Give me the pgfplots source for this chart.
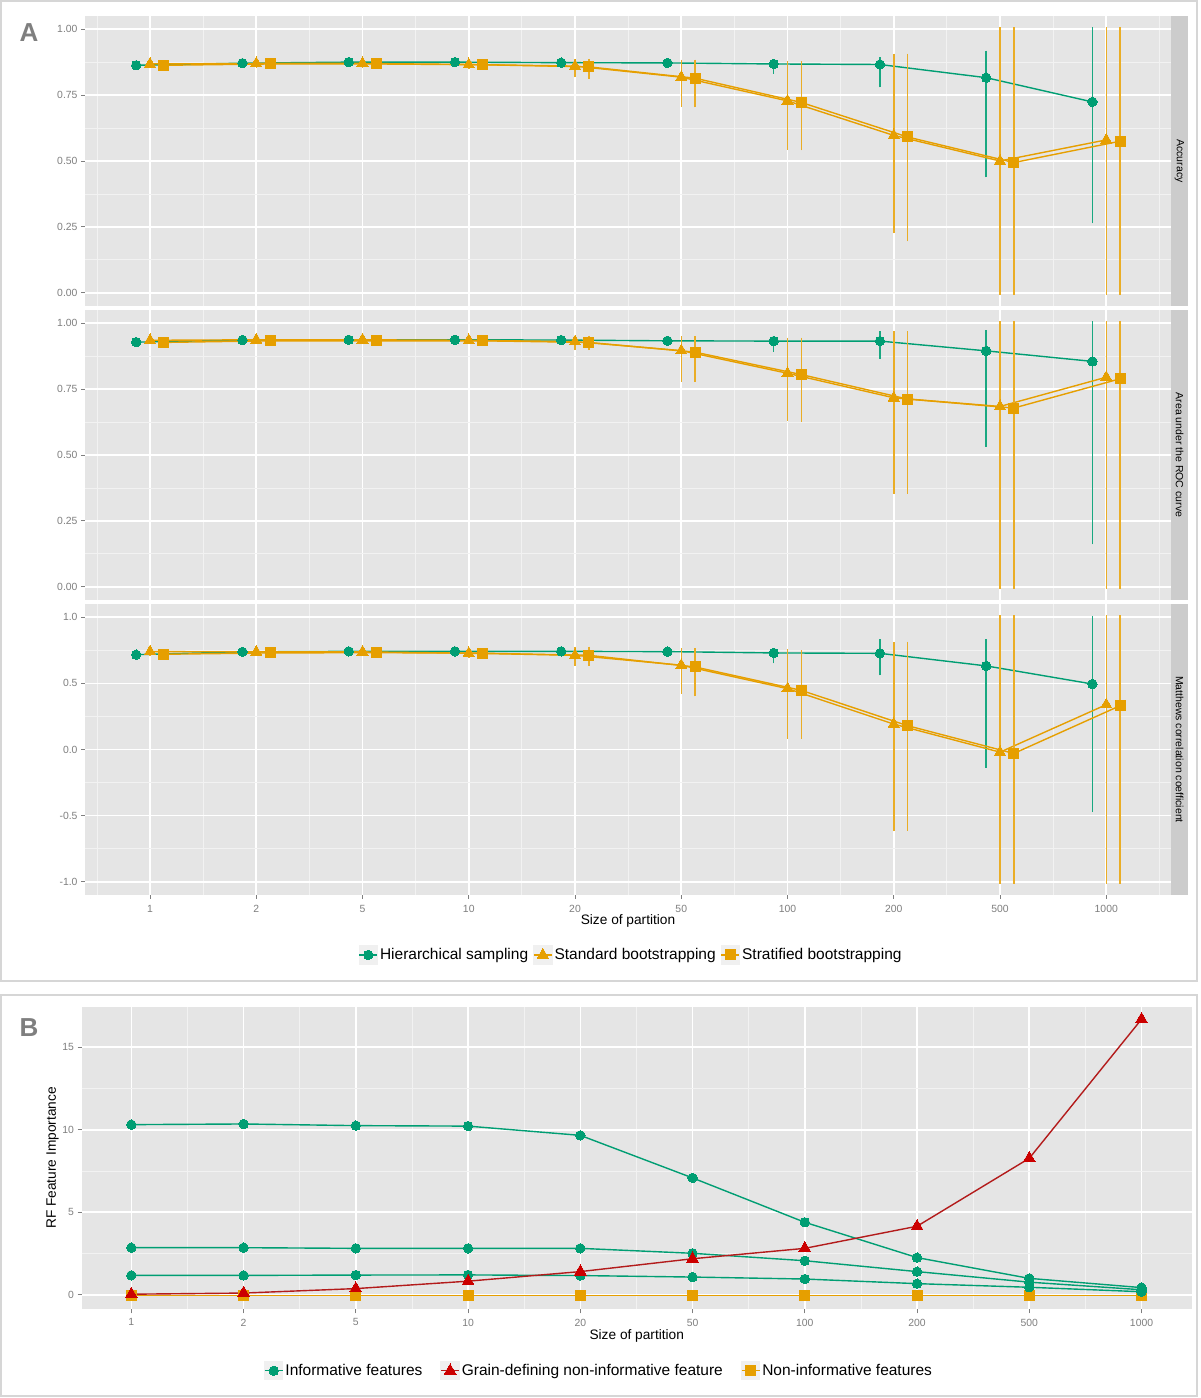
\documentclass[border=0pt]{standalone}
\usepackage{pgfplots}
\pgfplotsset{compat=1.18}
\usepackage{pgfplotstable}
\usepackage{fontspec}
\setmainfont{Liberation Sans}
\definecolor{ggbg}{HTML}{E5E5E5}
\definecolor{ggminor}{HTML}{F2F2F2}
\definecolor{gglab}{HTML}{7F7F7F}
\definecolor{ggstrip}{HTML}{CCCCCC}
\definecolor{keybg}{HTML}{F0F0F0}
\definecolor{boxc}{HTML}{D6D6D6}
\definecolor{cgreen}{HTML}{009E73}
\definecolor{corange}{HTML}{E69F00}
\definecolor{cred}{HTML}{CC0000}
\definecolor{credline}{HTML}{B31B1B}

% ---------- Panel A data: x y lo hi ----------
\pgfplotstableread{
x y lo hi
-0.13 0.863 0.858 0.868
0.87 0.871 0.866 0.876
1.87 0.875 0.870 0.880
2.87 0.875 0.870 0.880
3.87 0.873 0.866 0.880
4.87 0.872 0.862 0.880
5.87 0.868 0.838 0.873
6.87 0.866 0.787 0.886
7.87 0.816 0.445 0.911
8.87 0.724 0.271 1.000
}\accH
\pgfplotstableread{
x y lo hi
0 0.868 0.860 0.876
1 0.870 0.862 0.878
2 0.870 0.862 0.878
3 0.866 0.855 0.875
4 0.860 0.825 0.880
5 0.818 0.714 0.877
6 0.728 0.550 0.873
7 0.597 0.233 0.900
8 0.500 0.000 1.000
9 0.580 0.000 1.000
}\accS
\pgfplotstableread{
x y lo hi
0.13 0.863 0.855 0.870
1.13 0.868 0.860 0.876
2.13 0.868 0.860 0.876
3.13 0.865 0.855 0.875
4.13 0.857 0.820 0.880
5.13 0.814 0.711 0.877
6.13 0.722 0.548 0.870
7.13 0.591 0.203 0.900
8.13 0.494 0.000 1.000
9.13 0.575 0.000 1.000
}\accT
\pgfplotstableread{
x y lo hi
-0.13 0.928 0.924 0.932
0.87 0.936 0.932 0.940
1.87 0.937 0.933 0.941
2.87 0.937 0.933 0.941
3.87 0.936 0.930 0.942
4.87 0.933 0.925 0.940
5.87 0.932 0.900 0.943
6.87 0.932 0.873 0.962
7.87 0.895 0.539 0.966
8.87 0.855 0.169 1.000
}\aucH
\pgfplotstableread{
x y lo hi
0 0.935 0.930 0.940
1 0.937 0.932 0.942
2 0.937 0.932 0.942
3 0.935 0.930 0.940
4 0.930 0.905 0.945
5 0.896 0.785 0.942
6 0.810 0.637 0.938
7 0.717 0.361 0.962
8 0.684 0.000 1.000
9 0.795 0.000 1.000
}\aucS
\pgfplotstableread{
x y lo hi
0.13 0.927 0.922 0.932
1.13 0.933 0.928 0.938
2.13 0.933 0.928 0.938
3.13 0.933 0.928 0.938
4.13 0.927 0.905 0.945
5.13 0.890 0.785 0.942
6.13 0.805 0.634 0.938
7.13 0.712 0.361 0.962
8.13 0.678 0.000 1.000
9.13 0.789 0.000 1.000
}\aucT
\pgfplotstableread{
x y lo hi
-0.13 0.717 0.705 0.730
0.87 0.738 0.728 0.748
1.87 0.742 0.732 0.752
2.87 0.742 0.732 0.752
3.87 0.742 0.728 0.756
4.87 0.740 0.720 0.758
5.87 0.730 0.667 0.750
6.87 0.727 0.576 0.818
7.87 0.632 -0.123 0.818
8.87 0.495 -0.459 0.995
}\mccH
\pgfplotstableread{
x y lo hi
0 0.740 0.725 0.755
1 0.738 0.725 0.752
2 0.738 0.725 0.752
3 0.728 0.705 0.750
4 0.712 0.650 0.762
5 0.637 0.435 0.750
6 0.460 0.098 0.742
7 0.192 -0.603 0.796
8 -0.020 -1.000 1.000
9 0.339 -1.000 1.000
}\mccS
\pgfplotstableread{
x y lo hi
0.13 0.720 0.705 0.735
1.13 0.730 0.718 0.742
2.13 0.732 0.720 0.745
3.13 0.728 0.705 0.750
4.13 0.712 0.650 0.762
5.13 0.624 0.417 0.750
6.13 0.447 0.093 0.735
7.13 0.180 -0.600 0.800
8.13 -0.030 -1.000 1.000
9.13 0.331 -1.000 1.000
}\mccT

% ---------- Panel B data ----------
\pgfplotstableread{
x inf1 inf2 inf3 grain noninf
0 10.31 2.85 1.17 0.03 -0.05
1 10.35 2.85 1.17 0.10 -0.05
2 10.25 2.81 1.19 0.37 -0.05
3 10.22 2.81 1.20 0.82 -0.05
4 9.66 2.81 1.16 1.40 -0.05
5 7.08 2.51 1.07 2.18 -0.05
6 4.39 2.06 0.95 2.81 -0.05
7 2.25 1.40 0.67 4.15 -0.05
8 0.99 0.76 0.45 8.27 -0.05
9 0.43 0.30 0.18 16.70 -0.05
}\featB

\pgfplotsset{
  table/tabE/.style={x=x, y=y, y error plus expr=\thisrow{hi}-\thisrow{y}, y error minus expr=\thisrow{y}-\thisrow{lo}},
  ggbase/.style={
    scale only axis,
    axis background/.style={fill=ggbg},
    axis line style={draw=none},
    tick pos=left, tick align=outside,
    major tick length=4pt, minor tick length=0pt,
    tick style={color=gglab, line width=0.8pt},
    grid=both,
    major grid style={white, line width=1.6pt},
    minor grid style={ggminor, line width=0.8pt},
    tick label style={font=\fontsize{10.4}{12}\selectfont, text=gglab},
    legend image code/.code={%
      \fill[keybg] (0pt,-9pt) rectangle (18pt,9pt);
      \draw[##1] (0pt,0pt) -- (18pt,0pt);
      \draw[##1,only marks] plot coordinates {(9pt,0pt)};
    },
  },
  sH/.style={cgreen, line width=1.4pt, mark=*, mark size=4.7pt, mark options={fill=cgreen, draw=cgreen, line width=0pt, solid}},
  sS/.style={corange, line width=1.4pt, mark=triangle*, mark size=6.5pt, mark options={fill=corange, draw=corange, line width=0pt, solid}},
  sT/.style={corange, line width=1.4pt, mark=square*, mark size=5pt, mark options={fill=corange, draw=corange, line width=0pt, solid}},
  sR/.style={credline, line width=1.4pt, mark=triangle*, mark size=6.8pt, mark options={fill=cred, draw=cred, line width=0pt, solid}},
  ebG/.style={error bars/y dir=both, error bars/y explicit,
     error bars/error bar style={cgreen!90!white, line width=1.5pt},
     error bars/error mark options={cgreen!90!white, line width=1.5pt, mark size=2pt}},
  ebO/.style={error bars/y dir=both, error bars/y explicit,
     error bars/error bar style={corange!85!white, line width=1.5pt},
     error bars/error mark options={corange!85!white, line width=1.5pt, mark size=2pt}},
  facetA/.style={ggbase, anchor=south west, width=1086pt,
     xmin=-0.612, xmax=9.61,
     xtick={0,...,9}, minor xtick={-0.5,0.5,...,9.5}},
}

\begin{document}
\begin{tikzpicture}
\path[use as bounding box] (0pt,0pt) rectangle (1200pt,1398pt);
\fill[white] (0pt,0pt) rectangle (1200pt,1398pt);
\draw[boxc, line width=1.2pt] (1pt,417pt) rectangle (1197pt,1397pt);
\draw[boxc, line width=1.2pt] (1pt,2pt) rectangle (1197pt,403pt);

% ---- Facet 1: Accuracy ----
\begin{axis}[facetA, at={(85pt,1092pt)}, height=290pt,
  ymin=-0.05, ymax=1.05, xticklabels={}, xtick style={draw=none},
  ytick={0,0.25,0.5,0.75,1}, yticklabels={0.00,0.25,0.50,0.75,1.00},
  minor ytick={0.125,0.375,0.625,0.875}]
\addplot[sH, ebG] table[tabE] {\accH};
\addplot[sS, ebO] table[tabE] {\accS};
\addplot[sT, ebO] table[tabE] {\accT};
\end{axis}
\fill[ggstrip] (1171pt,1092pt) rectangle (1188pt,1382pt);
\node[rotate=-90, font=\fontsize{10.5}{12}\selectfont] at (1179.5pt,1237pt) {Accuracy};

% ---- Facet 2: AUC ----
\begin{axis}[facetA, at={(85pt,798pt)}, height=290pt,
  ymin=-0.05, ymax=1.05, xticklabels={}, xtick style={draw=none},
  ytick={0,0.25,0.5,0.75,1}, yticklabels={0.00,0.25,0.50,0.75,1.00},
  minor ytick={0.125,0.375,0.625,0.875}]
\addplot[sH, ebG] table[tabE] {\aucH};
\addplot[sS, ebO] table[tabE] {\aucS};
\addplot[sT, ebO] table[tabE] {\aucT};
\end{axis}
\fill[ggstrip] (1171pt,798pt) rectangle (1188pt,1088pt);
\node[rotate=-90, font=\fontsize{10.5}{12}\selectfont] at (1179.5pt,943pt) {Area under the ROC curve};

% ---- Facet 3: MCC ----
\begin{axis}[facetA, at={(85pt,503pt)}, height=291pt,
  ymin=-1.1, ymax=1.1,
  xticklabels={1,2,5,10,20,50,100,200,500,1000},
  xticklabel style={yshift=-3pt},
  ytick={-1,-0.5,0,0.5,1}, yticklabels={-1.0,-0.5,0.0,0.5,1.0},
  minor ytick={-0.75,-0.25,0.25,0.75},
  xlabel={Size of partition},
  xlabel style={at={(axis description cs:0.5,-0.0893)}, anchor=center, font=\fontsize{13.7}{16}\selectfont},
  legend columns=3, legend cell align=left,
  legend style={at={(axis description cs:0.5028,-0.206)}, anchor=center, draw=none, fill=none,
    font=\fontsize{15.5}{18}\selectfont, /tikz/every even column/.append style={column sep=3pt}}]
\addlegendimage{sH}\addlegendentry{Hierarchical sampling}
\addlegendimage{sS}\addlegendentry{Standard bootstrapping}
\addlegendimage{sT}\addlegendentry{Stratified bootstrapping}
\addplot[sH, ebG, forget plot] table[tabE] {\mccH};
\addplot[sS, ebO, forget plot] table[tabE] {\mccS};
\addplot[sT, ebO, forget plot] table[tabE] {\mccT};
\end{axis}
\fill[ggstrip] (1171pt,503pt) rectangle (1188pt,794pt);
\node[rotate=-90, font=\fontsize{10.5}{12}\selectfont] at (1179.5pt,648.5pt) {Matthews correlation coefficient};

\node[font=\fontsize{26}{30}\selectfont\bfseries, text=gglab] at (29pt,1365.5pt) {A};
\node[font=\fontsize{26}{30}\selectfont\bfseries, text=gglab] at (29pt,370pt) {B};

% ---- Panel B ----
\begin{axis}[ggbase, at={(81.5pt,88.7pt)}, anchor=south west, width=1110.5pt, height=302.6pt,
  xmin=-0.444, xmax=9.45, ymin=-0.885, ymax=17.46,
  xtick={0,...,9}, xticklabels={1,2,5,10,20,50,100,200,500,1000},
  xticklabel style={yshift=-2pt},
  minor xtick={0.5,1.5,...,8.5},
  ytick={0,5,10,15}, yticklabels={0,5,10,15}, minor ytick={2.5,7.5,12.5},
  xlabel={Size of partition},
  xlabel style={at={(axis description cs:0.5,-0.0872)}, anchor=center, font=\fontsize{13.7}{16}\selectfont},
  ylabel={RF Feature Importance},
  ylabel style={at={(axis description cs:-0.0261,0.5)}, anchor=center, font=\fontsize{13.7}{16}\selectfont},
  legend columns=3, legend cell align=left,
  legend style={at={(axis description cs:0.466,-0.203)}, anchor=center, draw=none, fill=none,
    font=\fontsize{15.5}{18}\selectfont, /tikz/every even column/.append style={column sep=16pt}}]
\addlegendimage{sH}\addlegendentry{Informative features}
\addlegendimage{sR}\addlegendentry{Grain-defining non-informative feature}
\addlegendimage{sT}\addlegendentry{Non-informative features}
\addplot[sT, forget plot] table[x=x, y=noninf] {\featB};
\addplot[sH, forget plot] table[x=x, y=inf1] {\featB};
\addplot[sH, forget plot] table[x=x, y=inf2] {\featB};
\addplot[sH, forget plot] table[x=x, y=inf3] {\featB};
\addplot[sR, forget plot] table[x=x, y=grain] {\featB};
\end{axis}
\end{tikzpicture}
\end{document}
